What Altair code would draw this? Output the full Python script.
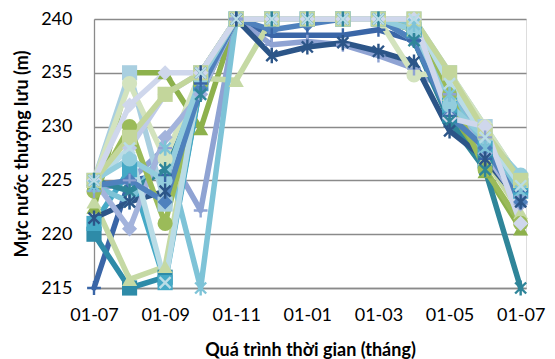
import altair as alt
import pandas as pd

# Month positions along one hydrological year (July to July), monthly steps
months = list(range(13))
tick_labels = ["01-07", "01-09", "01-11", "01-01", "01-03", "01-05", "01-07"]

# Upstream water level (m) of each simulated year, July .. next July
s01 = [215.0, 225.0, 225.5, 234.0, 240.0, 238.5, 238.5, 238.5, 239.0, 238.0, 231.0, 227.0, 224.0]
s02 = [220.0, 215.0, 216.0, 234.0, 240.0, 240.0, 240.0, 240.0, 240.0, 239.0, 231.0, 226.8, 224.5]
s03 = [222.5, 235.0, 235.0, 229.8, 240.0, 240.0, 240.0, 240.0, 240.0, 239.0, 232.0, 225.8, 220.5]
s04 = [224.0, 225.0, 228.0, 222.2, 240.0, 237.6, 237.9, 237.6, 236.6, 235.4, 233.0, 229.0, 223.5]
s05 = [221.0, 226.0, 215.5, 234.0, 240.0, 240.0, 240.0, 240.0, 240.0, 239.0, 232.0, 228.0, 224.0]
s06 = [223.0, 215.8, 217.0, 234.5, 234.3, 240.0, 240.0, 240.0, 240.0, 239.0, 233.0, 227.0, 222.0]
s07 = [224.5, 223.0, 228.0, 215.0, 240.0, 240.0, 240.0, 240.0, 240.0, 239.5, 233.0, 228.0, 224.0]
s08 = [225.0, 224.0, 226.0, 233.0, 240.0, 240.0, 240.0, 240.0, 240.0, 238.0, 230.5, 226.0, 215.0]
s09 = [221.5, 223.0, 224.0, 235.0, 240.0, 236.6, 237.4, 237.8, 237.0, 236.0, 229.6, 227.0, 223.0]
s10 = [225.0, 235.0, 222.8, 235.0, 240.0, 240.0, 240.0, 240.0, 240.0, 240.0, 235.0, 230.0, 225.0]
s11 = [225.0, 234.0, 227.0, 235.0, 240.0, 240.0, 240.0, 240.0, 240.0, 234.8, 235.0, 230.0, 225.0]
s12 = [225.0, 228.0, 233.0, 235.0, 240.0, 240.0, 240.0, 240.0, 240.0, 240.0, 231.0, 230.0, 221.0]
s13 = [225.0, 220.5, 229.0, 233.0, 240.0, 240.0, 240.0, 240.0, 240.0, 238.0, 232.0, 227.5, 222.8]
s14 = [224.0, 230.0, 221.0, 234.0, 240.0, 240.0, 240.0, 240.0, 240.0, 239.0, 233.0, 226.0, 221.0]
s15 = [225.0, 228.0, 215.5, 235.0, 240.0, 240.0, 240.0, 240.0, 240.0, 240.0, 234.0, 229.0, 224.5]
s16 = [224.5, 225.0, 223.0, 233.5, 240.0, 239.0, 239.5, 240.0, 240.0, 238.0, 231.0, 228.0, 223.0]
s17 = [225.0, 227.0, 225.0, 234.5, 240.0, 240.0, 240.0, 240.0, 240.0, 239.0, 232.0, 229.0, 225.5]
s18 = [225.0, 229.0, 233.0, 235.0, 240.0, 240.0, 240.0, 240.0, 240.0, 240.0, 235.0, 229.5, 225.0]
s19 = [225.0, 232.0, 235.0, 235.0, 240.0, 240.0, 240.0, 240.0, 240.0, 240.0, 230.8, 230.0, 221.0]

series_values = [s01, s02, s03, s04, s05, s06, s07, s08, s09, s10,
                 s11, s12, s13, s14, s15, s16, s17, s18, s19]
series_names = [f"N{i + 1:02d}" for i in range(len(series_values))]

series_colors = ["#3A66A7", "#2E8BA8", "#8DB14C", "#8FA3D3", "#45A9C6",
                 "#C5D9A4", "#7EC3D7", "#2F8599", "#2C5588", "#A9CFE0",
                 "#D3E3BE", "#BFCBE8", "#A3B3DC", "#9BBB59", "#B9DCE6",
                 "#4F81BD", "#93CDDD", "#C3D69B", "#CFD7EC"]

PLUS = "M-1,0L1,0M0,-1L0,1"
CROSS = "M-0.8,-0.8L0.8,0.8M-0.8,0.8L0.8,-0.8"
STAR = "M-0.8,-0.8L0.8,0.8M-0.8,0.8L0.8,-0.8M0,-1.1L0,1.1"
series_markers = ["plus", "square", "triangle-up", "plus", "square",
                  "triangle-up", "star", "star", "star", "square",
                  "circle", "diamond", "diamond", "circle", "cross",
                  "diamond", "circle", "square", "diamond"]
marker_paths = {"plus": PLUS, "cross": CROSS, "star": STAR}
open_markers = {"plus", "cross", "star"}

rows = []
for name, vals, mk in zip(series_names, series_values, series_markers):
    for m, v in zip(months, vals):
        rows.append({"series": name, "month": m, "level": v,
                     "kind": "open" if mk in open_markers else "filled"})
df = pd.DataFrame(rows)

shape_range = [marker_paths.get(mk, mk) for mk in series_markers]

label_expr = "[" + ",".join(f"'{t}'" for t in tick_labels) + "][datum.value / 2]"

GRID = "#8A8A8A"
FONT = "Lato"

x_enc = alt.X("month:Q",
              scale=alt.Scale(domain=[0, 12.15], nice=False, zero=False),
              axis=alt.Axis(values=[0, 2, 4, 6, 8, 10, 12], labelExpr=label_expr,
                            grid=False, ticks=False, domainColor=GRID, domainWidth=1.3,
                            labelFontSize=18, labelFont=FONT, labelColor="#000000",
                            labelPadding=18, labelFlush=False,
                            title="Quá trình thời gian (tháng)", titleFont=FONT,
                            titleFontSize=18, titleFontWeight="bold", titleColor="#000000",
                            titlePadding=17))
y_enc = alt.Y("level:Q",
              scale=alt.Scale(domain=[215, 240], nice=False, zero=False),
              axis=alt.Axis(values=[215, 220, 225, 230, 235, 240],
                            grid=True, gridColor=GRID, gridWidth=1.3,
                            ticks=False, domainColor=GRID, domainWidth=1.3,
                            labelFontSize=18, labelFont=FONT, labelColor="#000000",
                            labelPadding=22,
                            title="Mực nước thượng lưu (m)", titleFont=FONT,
                            titleFontSize=18, titleFontWeight="bold", titleColor="#000000",
                            titlePadding=9))
color_enc = alt.Color("series:N", scale=alt.Scale(domain=series_names, range=series_colors),
                      legend=None)
shape_enc = alt.Shape("series:N", scale=alt.Scale(domain=series_names, range=shape_range),
                      legend=None)

base = alt.Chart(df)

lines = base.mark_line(strokeWidth=5.5, strokeJoin="round", strokeCap="round").encode(
    x=x_enc, y=y_enc, color=color_enc, detail="series:N", order="month:Q")

filled_pts = base.transform_filter(alt.datum.kind == "filled").mark_point(
    filled=True, size=230, opacity=1, strokeWidth=1).encode(
    x="month:Q", y="level:Q", color=color_enc, shape=shape_enc)

open_pts = base.transform_filter(alt.datum.kind == "open").mark_point(
    filled=False, size=190, opacity=1, strokeWidth=2.4).encode(
    x="month:Q", y="level:Q", color=color_enc, shape=shape_enc)

chart = alt.layer(lines, filled_pts, open_pts).properties(
    width=432, height=269,
    padding={"left": 94, "top": 19, "right": 29, "bottom": 71},
    autosize="none",
).configure_view(stroke=None).configure(background="#FFFFFF")

chart.save("out.html", embed_options={"renderer": "svg", "actions": False})
